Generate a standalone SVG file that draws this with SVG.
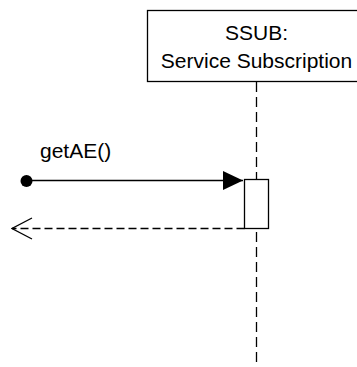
<svg xmlns="http://www.w3.org/2000/svg" width="357" height="367" viewBox="0 0 357 367">
<style>
text{font-family:"Liberation Sans",Arial,sans-serif;font-size:21px;fill:#000}
.ln{stroke:#000;stroke-width:1.3;fill:none}
.box{stroke:#000;stroke-width:1.3;fill:#fff}
.dash{stroke-dasharray:10,5}
</style>
<defs>
<marker id="filled" markerWidth="20" markerHeight="20" refX="20" refY="10" orient="auto" markerUnits="userSpaceOnUse">
<path d="M0,0.5 L20,10 L0,19.5 Z" fill="#000"/>
</marker>
<marker id="open" markerWidth="22" markerHeight="24" refX="21" refY="12" orient="auto" markerUnits="userSpaceOnUse">
<path d="M1,1.5 L21,12 L1,22.5" fill="none" stroke="#000" stroke-width="1.3"/>
</marker>
</defs>
<g id="ssub">
<rect class="box" x="147.5" y="10.5" width="219" height="71"/>
<text x="256.5" y="40" text-anchor="middle">SSUB:</text>
<text x="256.5" y="68" text-anchor="middle">Service Subscription</text>
<line class="ln dash" x1="256.5" y1="82" x2="256.5" y2="367"/>
</g>
<g id="connectors">
<circle cx="26.5" cy="181" r="6" fill="#000"/>
<line class="ln" x1="26.5" y1="180.5" x2="243" y2="180.5" marker-end="url(#filled)"/>
<text x="40" y="158">getAE()</text>
<line class="ln" x1="244.5" y1="228.5" x2="12" y2="228.5" stroke-dasharray="8,4" marker-end="url(#open)"/>
</g>
<g id="activation">
<rect class="box" x="244.5" y="179.5" width="24" height="49"/>
</g>
</svg>
